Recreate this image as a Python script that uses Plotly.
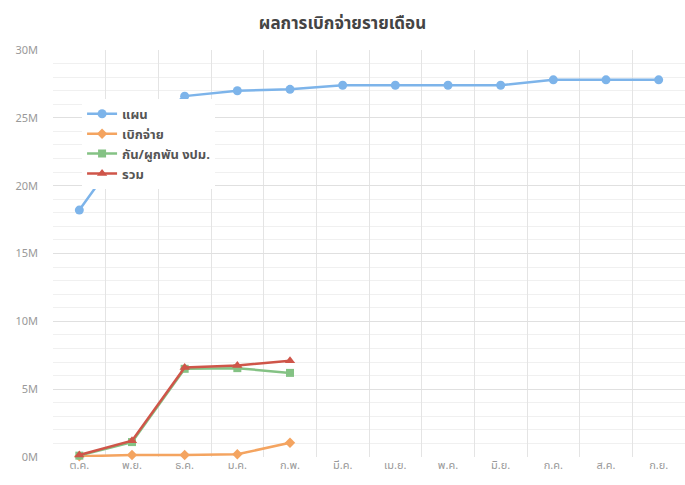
"""Monthly disbursement chart
"""

import plotly.graph_objects as go

# data
months = ["ต.ค.", "พ.ย.", "ธ.ค.", "ม.ค.", "ก.พ.", "มี.ค.", "เม.ย.", "พ.ค.", "มิ.ย.", "ก.ค.", "ส.ค.", "ก.ย."]
plan = [18.2, 23.6, 26.6, 27.0, 27.1, 27.4, 27.4, 27.4, 27.4, 27.8, 27.8, 27.8]
disbursed = [0.05, 0.15, 0.15, 0.2, 1.05]
committed = [0.1, 1.1, 6.5, 6.55, 6.2]
total = [0.15, 1.2, 6.6, 6.75, 7.1]
y_ticks = [0, 5, 10, 15, 20, 25, 30]
y_labels = ["0M", "5M", "10M", "15M", "20M", "25M", "30M"]

FONT = "Noto Sans Thai, Noto Sans, sans-serif"

series = [
    ("แผน", plan, "#7db4ea", "circle", 9),
    ("เบิกจ่าย", disbursed, "#f4a460", "diamond", 8),
    ("กัน/ผูกพัน งปม.", committed, "#84c284", "square", 8),
    ("รวม", total, "#cf5549", "triangle-up", 9),
]

fig = go.Figure()
for name, values, color, symbol, size in series:
    fig.add_trace(
        go.Scatter(
            x=months[: len(values)],
            y=values,
            name=f"<b>{name}</b>",
            mode="lines+markers",
            line=dict(color=color, width=2.5),
            marker=dict(color=color, symbol=symbol, size=size),
            cliponaxis=False,
        )
    )

fig.update_layout(
    width=685,
    height=485,
    margin=dict(l=53, r=0, t=50, b=28, autoexpand=False),
    paper_bgcolor="white",
    plot_bgcolor="white",
    font=dict(family=FONT, color="#999999", size=11),
    title=dict(
        text="<b>ผลการเบิกจ่ายรายเดือน</b>",
        x=0.5,
        xanchor="center",
        y=0.952,
        yanchor="middle",
        font=dict(family=FONT, size=17, color="#444444"),
    ),
    legend=dict(
        x=0.046,
        y=0.88,
        xanchor="left",
        yanchor="top",
        bgcolor="white",
        font=dict(family=FONT, size=13, color="#555555"),
        itemwidth=30,
        tracegroupgap=0,
    ),
    showlegend=True,
)

fig.update_xaxes(
    type="category",
    range=[-0.5, len(months) - 0.5],
    tickson="boundaries",
    showgrid=True,
    gridcolor="#e4e4e4",
    gridwidth=1,
    showline=False,
    zeroline=False,
    ticks="",
    automargin=False,
    tickfont=dict(size=11, color="#999999"),
)

fig.update_yaxes(
    range=[0, 30],
    tickvals=y_ticks,
    ticktext=y_labels,
    showgrid=True,
    gridcolor="#e0e0e0",
    gridwidth=1,
    minor=dict(dtick=1, showgrid=True, gridcolor="#f0f0f0", gridwidth=1),
    zeroline=False,
    showline=False,
    ticks="",
    automargin=False,
    ticklabelstandoff=14,
    tickfont=dict(size=11, color="#999999"),
)

# page body has a default 8px margin; drop it so the figure sits at the corner
fig.write_html(
    "out.html",
    config={"displayModeBar": False},
    post_script="document.body.style.margin = '0';",
)
